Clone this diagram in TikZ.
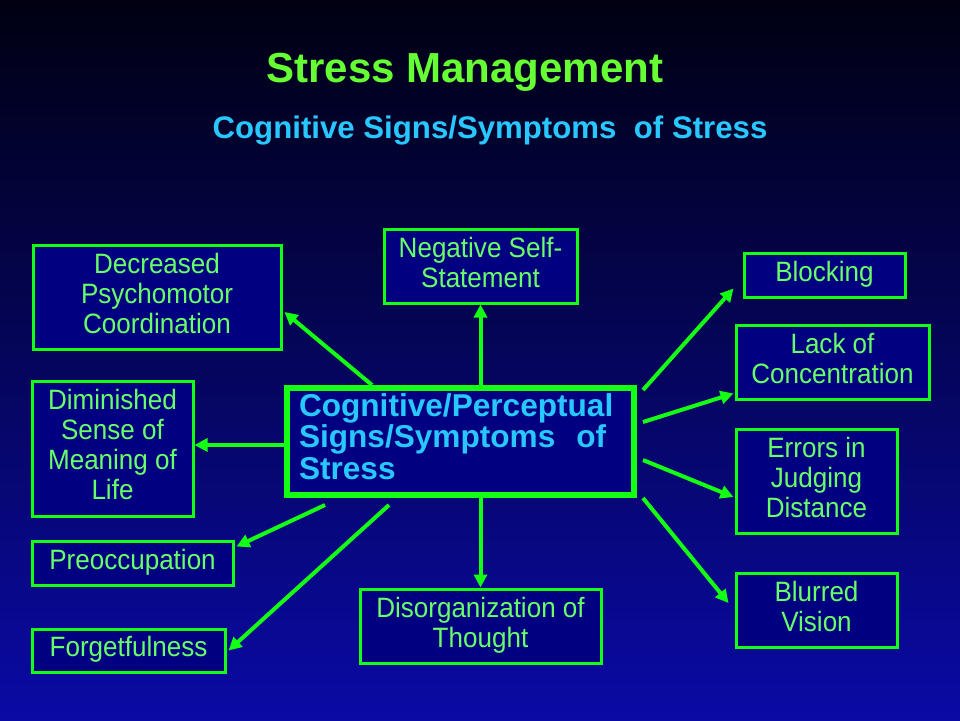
\documentclass[tikz,border=0pt]{standalone}
\usepackage{fontspec}
\setmainfont{Liberation Sans}
\newfontfamily\narfont[FakeStretch=0.93]{Liberation Sans}
\usetikzlibrary{arrows.meta,calc}
\definecolor{bgtop}{RGB}{0,0,18}
\definecolor{bgbot}{RGB}{10,10,165}
\definecolor{boxfill}{RGB}{0,0,128}
\definecolor{brdgreen}{RGB}{20,255,20}
\definecolor{txtgreen}{RGB}{105,255,105}
\definecolor{titlegreen}{RGB}{102,255,51}
\definecolor{cyantxt}{RGB}{40,200,255}
\newcommand{\lastdp}{\rule[-8pt]{0pt}{8pt}}
\begin{document}
\begin{tikzpicture}[x=1pt,y=-1pt,
  sbox/.style={draw=brdgreen, line width=3pt, fill=boxfill, text=txtgreen,
    align=center, inner sep=0pt, font=\narfont\fontsize{28}{30}\selectfont},
  cbox/.style={draw=brdgreen, line width=6pt, fill=boxfill, text=cyantxt,
    align=left, inner xsep=12pt, inner ysep=0pt, text width=323pt,
    font=\bfseries\fontsize{31.6}{31.5}\selectfont},
  arr/.style={draw=brdgreen, line width=4pt, -{Triangle[length=13pt,width=13pt]}}]
\shade[top color=bgtop, bottom color=bgbot] (0,0) rectangle (960,720);
\useasboundingbox (0,0) rectangle (960,720);

\node[anchor=base, text=titlegreen, font=\bfseries\fontsize{42}{42}\selectfont] (title) at (465,82) {Stress Management};
\node[anchor=base, text=cyantxt, font=\bfseries\fontsize{31.2}{31}\selectfont] (subtitle) at (490,138) {Cognitive Signs/Symptoms\ \ of Stress};

\node[cbox, minimum width=347pt, minimum height=107pt] (c) at (460.5,441.5) {Cognitive/Perceptual\\Signs/Symptoms\ \ of\\Stress\rule[-10pt]{0pt}{10pt}};

\node[sbox, minimum width=248pt, minimum height=104pt] (dec) at (157,297) {Decreased\\Psychomotor\\Coordination\lastdp};
\node[sbox, minimum width=193pt, minimum height=74pt] (neg) at (480.5,266) {Negative Self-\\Statement\lastdp};
\node[sbox, minimum width=161pt, minimum height=44pt] (blk) at (824.5,275) {Blocking\lastdp};
\node[sbox, minimum width=193pt, minimum height=74pt] (lack) at (832.5,362) {Lack of\\Concentration\lastdp};
\node[sbox, minimum width=161pt, minimum height=104pt] (err) at (816.5,481) {Errors in\\Judging\\Distance\lastdp};
\node[sbox, minimum width=161pt, minimum height=74pt] (blur) at (816.5,610) {Blurred\\Vision\lastdp};
\node[sbox, minimum width=161pt, minimum height=135pt] (dim) at (112.5,448.5) {Diminished\\Sense of\\Meaning of\\Life\lastdp};
\node[sbox, minimum width=201pt, minimum height=44pt] (pre) at (132.5,563) {Preoccupation\lastdp};
\node[sbox, minimum width=193pt, minimum height=43pt] (forg) at (128.5,650.5) {Forgetfulness\lastdp};
\node[sbox, minimum width=241pt, minimum height=74pt] (dis) at (480.5,626) {Disorganization of\\Thought\lastdp};

\draw[arr] (c.north -| neg.south) -- (neg.south);
\draw[arr] ($(c.north west)+(88,0)$) -- ($(dec.east)+(2,15)$);
\draw[arr] ($(c.west)+(0,3.5)$) -- ($(dim.east)+(0,-3.5)$);
\draw[arr] ($(c.south west)+(41,7)$) -- ($(pre.north east)+(2,7)$);
\draw[arr] ($(c.south west)+(105,7)$) -- ($(forg.east)+(2,0)$);
\draw[arr] (c.south -| dis.north) -- (dis.north);
\draw[arr] ($(c.east)+(6,-51.5)$) -- ($(blk.south west)+(-9,-10)$);
\draw[arr] ($(c.east)+(6,-19.5)$) -- ($(lack.south west)+(-1,-7)$);
\draw[arr] ($(c.east)+(6,18.5)$) -- ($(err.west)+(-1,16)$);
\draw[arr] ($(c.east)+(6,56.5)$) -- ($(blur.west)+(-6,-7)$);
\end{tikzpicture}
\end{document}
